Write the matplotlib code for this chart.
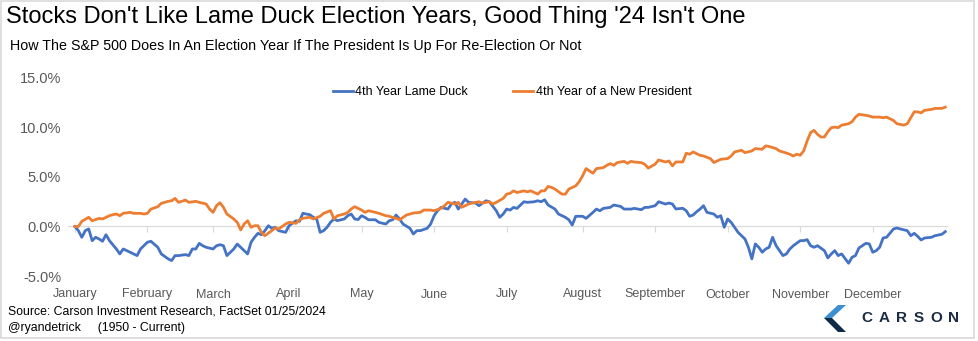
import matplotlib
matplotlib.use("Agg")
import matplotlib.pyplot as plt
from matplotlib.patches import Rectangle, Polygon
from matplotlib.ticker import FuncFormatter


# trading day of the year and cumulative S&P 500 return (%)
lame_duck_day = [0, 1, 2, 3, 4, 5, 6, 7, 8, 9, 10, 12, 13, 14, 16, 17, 18, 19, 21, 22, 24, 25, 27, 28, 29, 30,
                 32, 33, 34, 35, 36, 37, 38, 40, 41, 42, 43, 44, 45, 46, 47, 48, 50, 51, 52, 53, 54, 55, 56, 57,
                 58, 59, 61, 62, 64, 65, 66, 67, 68, 69, 70, 71, 72, 73, 74, 75, 76, 78, 79, 80, 81, 82, 83, 84,
                 85, 87, 88, 90, 91, 92, 93, 94, 95, 97, 98, 99, 100, 102, 103, 104, 105, 106, 108, 109, 110, 111,
                 112, 113, 114, 116, 117, 119, 120, 122, 123, 124, 125, 126, 127, 128, 130, 131, 133, 134, 135, 136,
                 137, 139, 140, 142, 143, 144, 145, 147, 148, 150, 151, 152, 153, 155, 156, 158, 159, 161, 162, 164,
                 165, 166, 168, 169, 171, 172, 173, 174, 176, 177, 178, 179, 180, 181, 182, 183, 185, 186, 187, 188,
                 189, 190, 191, 192, 194, 195, 196, 197, 198, 199, 200, 201, 202, 203, 204, 205, 206, 207, 208, 210,
                 211, 212, 213, 214, 215, 217, 218, 219, 220, 221, 222, 224, 225, 226, 227, 229, 230, 231, 232, 233,
                 234, 235, 237, 238, 239, 241, 242, 243, 244, 245, 246, 248, 249, 251, 252]
lame_duck_pct = [0.0, -0.42, -1.09, -0.42, -0.25, -1.43, -1.09, -1.26, -1.49, -0.83, -1.43, -2.27, -2.77, -2.27,
                 -2.60, -2.77, -2.94, -2.27, -1.59, -1.49, -2.10, -2.77, -3.27, -3.44, -2.94, -2.94, -2.84, -2.94,
                 -2.27, -2.27, -1.70, -1.94, -2.10, -2.27, -1.94, -1.84, -1.94, -2.94, -2.60, -2.27, -1.77, -2.10,
                 -2.77, -1.59, -1.09, -0.69, -0.83, -0.42, 0.08, -0.18, -0.08, -0.42, -0.59, 0.08, 0.58, 0.52,
                 1.33, 1.26, 1.19, 0.93, 0.76, -0.59, -0.42, -0.08, 0.42, 0.76, 0.59, 0.76, 1.09, 1.26, 0.76,
                 0.70, 1.09, 0.92, 0.68, 0.68, 0.42, 0.25, 0.58, 0.68, 1.16, 0.76, 0.25, -0.18, -0.76, -0.42,
                 -0.42, -0.18, 0.25, 1.09, 1.59, 1.93, 1.76, 2.27, 2.44, 1.76, 2.27, 2.77, 2.44, 2.37, 2.10, 2.60,
                 2.50, 1.59, 0.93, 1.26, 1.76, 1.66, 1.93, 1.83, 2.50, 2.44, 2.50, 2.60, 2.50, 2.70, 2.17, 1.76,
                 1.26, 0.93, 0.68, 0.15, 1.03, 1.03, 0.82, 1.43, 1.76, 1.59, 1.83, 1.93, 2.17, 2.03, 1.76, 1.76,
                 1.83, 1.70, 1.93, 1.93, 2.10, 2.50, 2.27, 2.37, 2.27, 1.77, 1.84, 1.59, 1.03, 1.16, 1.49, 1.76,
                 2.10, 1.43, 1.26, 0.93, 1.09, -0.08, 0.76, 0.42, -0.08, -0.59, -1.26, -2.10, -3.27, -1.76, -2.10,
                 -2.60, -2.27, -2.10, -1.09, -1.93, -2.44, -2.94, -2.77, -2.27, -1.94, -1.43, -1.43, -1.33, -1.94,
                 -2.10, -1.94, -2.44, -3.17, -2.77, -2.44, -2.94, -2.77, -3.71, -3.11, -2.94, -2.17, -1.70, -1.76,
                 -2.60, -2.44, -2.10, -1.16, -1.09, -0.25, -0.15, -0.25, -0.42, -0.93, -0.69, -0.99, -1.36, -1.16,
                 -1.09, -0.93, -0.79, -0.52]

new_pres_day = [0, 1, 2, 4, 5, 7, 8, 10, 11, 12, 13, 14, 16, 17, 19, 20, 21, 22, 24, 25, 27, 28, 29, 30, 32, 33,
                35, 36, 38, 39, 40, 41, 42, 43, 44, 46, 47, 48, 49, 50, 51, 52, 53, 54, 55, 57, 58, 59, 61, 62,
                64, 65, 66, 68, 69, 71, 72, 74, 75, 76, 78, 79, 80, 81, 83, 84, 85, 87, 88, 90, 91, 93, 94, 95,
                96, 98, 100, 101, 103, 104, 106, 107, 108, 110, 111, 112, 114, 115, 117, 118, 120, 121, 122, 124,
                125, 126, 127, 128, 130, 131, 132, 134, 135, 136, 137, 138, 139, 141, 142, 143, 145, 146, 147, 148,
                149, 150, 151, 153, 154, 155, 156, 157, 159, 160, 161, 162, 164, 165, 166, 168, 169, 171, 172, 173,
                174, 176, 177, 178, 179, 181, 182, 184, 185, 186, 187, 189, 190, 191, 193, 194, 196, 197, 199, 200,
                201, 203, 204, 205, 207, 208, 209, 210, 211, 212, 213, 214, 215, 216, 217, 218, 219, 220, 221, 222,
                224, 225, 226, 227, 229, 230, 231, 233, 234, 235, 237, 238, 240, 241, 242, 243, 244, 245, 246, 248,
                249, 251, 252]
new_pres_pct = [0.0, 0.0, 0.52, 0.93, 0.58, 0.82, 0.76, 1.09, 1.19, 1.26, 1.09, 1.33, 1.43, 1.33, 1.33, 1.26, 1.33,
                1.76, 2.00, 2.34, 2.54, 2.60, 2.84, 2.44, 2.67, 2.44, 2.54, 2.44, 2.27, 1.76, 1.43, 2.10, 2.40,
                1.94, 1.26, 0.76, 0.42, -0.35, 0.25, 0.58, -0.08, 0.08, 0.08, -0.59, -0.93, -0.42, -0.15, -0.25,
                0.25, 0.42, 0.32, 0.66, 0.83, 0.93, 0.76, 1.03, 1.33, 1.60, 0.76, 1.09, 1.26, 1.43, 1.77, 2.00,
                1.66, 1.43, 1.59, 1.43, 1.33, 1.09, 1.03, 0.82, 0.68, 0.92, 1.16, 1.36, 1.43, 1.66, 1.66, 1.59,
                1.83, 2.10, 2.44, 2.27, 2.44, 1.94, 2.27, 2.37, 2.50, 2.37, 2.50, 2.27, 2.44, 2.84, 3.27, 3.35,
                3.60, 3.43, 3.60, 3.50, 3.60, 3.27, 3.60, 3.60, 4.05, 3.95, 3.78, 3.27, 3.27, 3.78, 4.11, 4.52,
                5.12, 5.85, 5.62, 5.38, 5.85, 5.95, 6.18, 6.35, 6.18, 6.45, 6.58, 6.38, 6.58, 6.51, 6.45, 6.28,
                5.90, 6.30, 6.72, 6.52, 6.62, 6.12, 6.52, 6.52, 7.40, 7.30, 7.53, 7.19, 7.12, 6.86, 6.46, 6.62,
                6.79, 6.86, 7.12, 7.53, 7.70, 7.46, 7.63, 7.87, 7.80, 8.14, 8.08, 7.87, 7.63, 7.53, 7.30, 7.12,
                7.30, 7.20, 7.63, 8.64, 9.48, 9.71, 9.31, 9.04, 9.04, 9.58, 9.98, 10.04, 9.98, 10.24, 10.38,
                10.58, 11.05, 11.33, 11.23, 11.16, 11.05, 11.05, 10.99, 11.05, 10.71, 10.38, 10.24, 10.38, 10.98,
                11.58, 11.58, 11.48, 11.73, 11.83, 11.93, 11.93, 12.06]

months = ['January', 'February', 'March', 'April', 'May', 'June', 'July', 'August',
          'September', 'October', 'November', 'December']
month_start_day = [0, 21, 40, 62, 83, 104, 125, 147, 168, 189, 210, 231]
y_ticks = [-5, 0, 5, 10, 15]

BLUE = '#4472C4'
ORANGE = '#ED7D31'
GREY_TXT = '#595959'
GRID = '#d9d9d9'
plt.rcParams['font.family'] = ['Liberation Sans', 'DejaVu Sans']

W, H = 979, 341
fig = plt.figure(figsize=(W / 100, H / 100), dpi=100)
ax = fig.add_axes([68 / W, 1 - 276 / H, (947 - 68) / W, (276 - 78) / H])

ax.plot(lame_duck_day, lame_duck_pct, color=BLUE, lw=2.0, label='4th Year Lame Duck')
ax.plot(new_pres_day, new_pres_pct, color=ORANGE, lw=2.0, label='4th Year of a New President')

ax.set_xlim(-2, 252.5)
ax.set_ylim(-5, 15)
ax.set_yticks(y_ticks)
ax.yaxis.set_major_formatter(FuncFormatter(lambda v, p: f'{v:.1f}%'))
ax.tick_params(axis='y', length=0, pad=5, labelsize=10.5, labelcolor=GREY_TXT)

for s in ['top', 'right', 'left']:
    ax.spines[s].set_visible(False)
ax.spines['bottom'].set_position(('data', 0))
ax.spines['bottom'].set_color(GRID)
ax.spines['bottom'].set_zorder(0)
ax.set_xticks(month_start_day)
ax.tick_params(axis='x', direction='out', length=4, color=GRID, labelbottom=False)

# month names sit under the plot, not on the zero line
sec = ax.secondary_xaxis(0)
sec.set_xticks(month_start_day, labels=months)
sec.tick_params(length=0, pad=9, labelsize=9, labelcolor=GREY_TXT)
sec.spines['bottom'].set_visible(False)

fig.legend(loc='center', bbox_to_anchor=(512 / W, 1 - 92 / H), ncol=2, frameon=False,
           fontsize=9, handlelength=1.6, handletextpad=0.2, columnspacing=3.6)

fig.text(6 / W, 1 - 17 / H, "Stocks Don't Like Lame Duck Election Years, Good Thing '24 Isn't One",
         fontsize=17, va='center', ha='left')
fig.text(10 / W, 1 - 46 / H,
         'How The S&P 500 Does In An Election Year If The President Is Up For Re-Election Or Not',
         fontsize=10.3, va='center', ha='left')
fig.text(8 / W, 1 - 311 / H, 'Source: Carson Investment Research, FactSet 01/25/2024',
         fontsize=8.8, va='center', ha='left')
fig.text(8 / W, 1 - 328 / H, '@ryandetrick     (1950 - Current)',
         fontsize=8.8, va='center', ha='left')

# Carson logo: chevron plus spaced wordmark
def px(x, y):
    return (x / W, 1 - y / H)

fig.patches.append(Polygon([px(838, 305), px(846, 305), px(832, 318), px(824, 318)],
                           closed=True, transform=fig.transFigure, fc='#3d8fd1', ec='none'))
fig.patches.append(Polygon([px(824, 318), px(832, 318), px(846, 332), px(838, 332)],
                           closed=True, transform=fig.transFigure, fc='#0f2a47', ec='none'))
for i, ch in enumerate('CARSON'):
    fig.text((867 + i * 17.3) / W, 1 - 318 / H, ch, fontsize=11, weight='bold',
             color='#1b2b44', va='center', ha='center')

fig.patches.append(Rectangle((1 / W, 3 / H), 973 / W, 337 / H, transform=fig.transFigure,
                             fill=False, ec=GRID, lw=1.2))

fig.savefig('out.png', dpi=100)
